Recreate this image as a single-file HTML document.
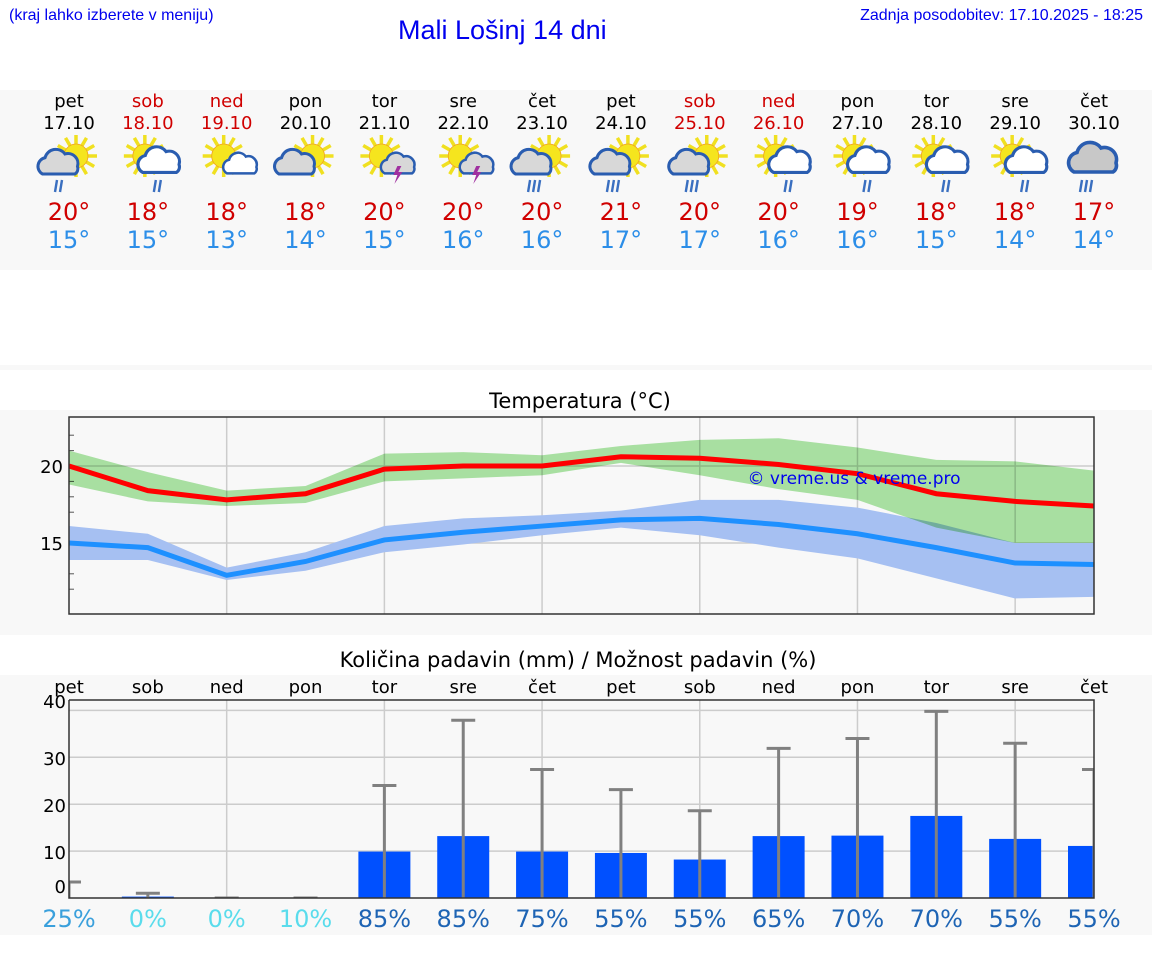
<!DOCTYPE html>
<html><head><meta charset="utf-8">
<style>
body{margin:0;width:1152px;height:975px;background:#fff;font-family:"DejaVu Sans","Liberation Sans",sans-serif;position:relative;overflow:hidden}
.abs{position:absolute}
.band{position:absolute;left:0;width:1152px;background:#f8f8f8}
</style></head><body>
<div class="abs" style="left:9px;top:7px;font:16px 'Liberation Sans',sans-serif;color:#0000ee">(kraj lahko izberete v meniju)</div>
<div class="abs" style="left:398px;top:15px;font:27px 'Liberation Sans',sans-serif;color:#0000ee">Mali Lošinj 14 dni</div>
<div class="abs" style="right:9px;top:7px;font:16px 'Liberation Sans',sans-serif;color:#0000ee">Zadnja posodobitev: 17.10.2025 - 18:25</div>
<div class="band" style="top:90px;height:180px"></div>
<div class="band" style="top:365px;height:5px"></div>
<div class="band" style="top:410px;height:225px"></div>
<div class="band" style="top:675px;height:260px"></div>
<svg id="svg" class="abs" style="left:0;top:0" width="1152" height="975"></svg>
<script>
const days=['pet','sob','ned','pon','tor','sre','čet','pet','sob','ned','pon','tor','sre','čet'];
const dates=['17.10','18.10','19.10','20.10','21.10','22.10','23.10','24.10','25.10','26.10','27.10','28.10','29.10','30.10'];
const weekend=[0,1,1,0,0,0,0,0,1,1,0,0,0,0];
const icons=['sc-r','s-cw-r','s-cws','sc','s-t','s-t','sc-r','sc-r','sc-r','s-cw-r','s-cw-r','s-cw-r','s-cw-r','c-r'];
const tmax=[20,18,18,18,20,20,20,21,20,20,19,18,18,17];
const tmin=[15,15,13,14,15,16,16,17,17,16,16,15,14,14];
const maxLine=[20.0,18.4,17.8,18.2,19.8,20.0,20.0,20.6,20.5,20.1,19.5,18.2,17.7,17.4];
const maxHi=[21.0,19.6,18.4,18.7,20.8,20.9,20.7,21.3,21.7,21.8,21.2,20.4,20.3,19.7];
const maxLo=[18.8,17.7,17.4,17.6,19.0,19.2,19.4,20.2,19.4,18.5,17.8,16.0,15.0,15.0];
const minLine=[15.0,14.7,12.9,13.8,15.2,15.7,16.1,16.5,16.6,16.2,15.6,14.7,13.7,13.6];
const minHi=[16.1,15.6,13.4,14.4,16.1,16.6,16.8,17.1,17.8,17.8,17.3,16.3,15.0,15.0];
const minLo=[13.9,13.9,12.6,13.2,14.4,14.9,15.5,16.0,15.5,14.7,14.0,12.7,11.4,11.5];
const precip=[0,0.3,0,0,9.9,13.2,9.9,9.6,8.2,13.2,13.3,17.5,12.6,11.1];
const precipHi=[3.4,1.0,0,0,24,37.9,27.4,23.1,18.6,31.9,34,39.8,33,27.4];
const chance=[25,0,0,10,85,85,75,55,55,65,70,70,55,55];
const tTicks=[15,20];
const pTicks=[10,20,30,40];
const NS='http://www.w3.org/2000/svg';
const svg=document.getElementById('svg');
function el(t,a,p){const e=document.createElementNS(NS,t);for(const k in a)e.setAttribute(k,a[k]);(p||svg).appendChild(e);return e;}
const X=i=>69+i*(1094-69)/13;
const TY=v=>466-(v-20)*15.4;
const PY=v=>898-v*4.69;
const defs=el('defs',{});
const cp=el('clipPath',{id:'pclip'},defs);el('rect',{x:69,y:690,width:1025,height:208},cp);
const cp2=el('clipPath',{id:'tclip'},defs);el('rect',{x:69,y:417,width:1025,height:197},cp2);
// header
days.forEach((d,i)=>{
 const c=weekend[i]?'#d00000':'#000';
 let t=el('text',{x:X(i),y:107,'text-anchor':'middle','font-size':18,fill:c});t.textContent=d;
 
 
 t=el('text',{x:X(i),y:129,'text-anchor':'middle','font-size':18,fill:c});t.textContent=dates[i];
 
 
 t=el('text',{x:X(i),y:220,'text-anchor':'middle','font-size':24,fill:'#d00000'});t.textContent=tmax[i]+'°';
 
 
 t=el('text',{x:X(i),y:248,'text-anchor':'middle','font-size':24,fill:'#2c8ee8'});t.textContent=tmin[i]+'°';
 
 
 const g=el('g',{transform:`translate(${X(i)-25},136)`});
 
 
 const k=icons[i];
 if(k!=='c-r'){const sx=k.startsWith('sc')?32:22, sy=20;
  for(let a=0;a<12;a++){const an=a*Math.PI/6;el('line',{x1:sx+Math.cos(an)*12,y1:sy+Math.sin(an)*12,x2:sx+Math.cos(an)*21,y2:sy+Math.sin(an)*21,stroke:'#f0e020','stroke-width':3.5},g);}
  el('circle',{cx:sx,cy:sy,r:12,fill:'#f5e51e',stroke:'#f0a020','stroke-width':0.8},g);}
 const cloud=(cx,cy,s,fill)=>el('path',{d:'M-14,8 a7 7 0 0 1 2,-13 a9 9 0 0 1 16,-3 a8 8 0 0 1 10,10 a5 5 0 0 1 -2,6 z',fill,stroke:'#2a5db0','stroke-width':2.4,transform:`translate(${cx},${cy}) scale(${s})`},g);
 if(k==='sc-r'||k==='sc'){cloud(16,28,1.25,'#d8d8d8');}
 else if(k==='s-cw-r'){cloud(38,26,1.3,'#fff');}
 else if(k==='s-cws'){cloud(40,29,1.05,'#fff');}
 else if(k==='s-t'){cloud(40,29,1.05,'#d8d8d8');el('path',{d:'M38,30 l-4,9 h4 l-3,9 l8,-12 h-4 l3,-6z',fill:'#a030a0'},g);}
 else if(k==='c-r'){cloud(26,24,1.5,'#c8c8c8');}
 if(k.endsWith('-r')){const rx=k==='s-cw-r'?36:16;const n=(k==='c-r'||(i>=6&&i<=8))?3:2;for(let j=0;j<n;j++)el('line',{x1:rx-3+j*5,y1:44,x2:rx-5+j*5,y2:56,stroke:'#3a6fc0','stroke-width':2.4},g);}
});
// temperature chart
let t=el('text',{x:580,y:408,'text-anchor':'middle','font-size':21,fill:'#000'});t.textContent='Temperatura (°C)';


for(let i=2;i<14;i+=2)el('line',{x1:X(i),y1:417,x2:X(i),y2:614,stroke:'#ccc','stroke-width':1.5});
for(let v=12;v<=22;v++){el('line',{x1:69,y1:TY(v),x2:74,y2:TY(v),stroke:'#555'});}
tTicks.forEach(v=>{el('line',{x1:69,y1:TY(v),x2:1094,y2:TY(v),stroke:'#ccc','stroke-width':1.5});
 const tt=el('text',{x:63,y:TY(v)+7,'text-anchor':'end','font-size':18});tt.textContent=v;
 
 });
const band=(hi,lo,c,name,op)=>{let d='M'+hi.map((v,i)=>X(i)+','+TY(v)).join('L')+'L'+lo.map((v,i)=>X(i)+','+TY(v)).reverse().join('L')+'Z';
 const p=el('path',{d,fill:c,opacity:op,'clip-path':'url(#tclip)'});return p;};
band(minHi,minLo,'#a6c0f2','min-temp-range',1);
const gb=band(maxHi,maxLo,'#98e090','max-temp-range',0.8);gb.style.mixBlendMode='multiply';
const line=(arr,c,name)=>{const p=el('polyline',{points:arr.map((v,i)=>X(i)+','+TY(v)).join(' '),fill:'none',stroke:c,'stroke-width':5,'clip-path':'url(#tclip)'});};
line(maxLine,'#ff0000','max-temp-line');
line(minLine,'#1e90ff','min-temp-line');
el('rect',{x:69,y:417,width:1025,height:197,fill:'none',stroke:'#333','stroke-width':1.5});
t=el('text',{x:854,y:484,'text-anchor':'middle','font-size':17,fill:'#0000ee'});t.textContent='© vreme.us & vreme.pro';


// precipitation chart
t=el('text',{x:578,y:667,'text-anchor':'middle','font-size':21});t.textContent='Količina padavin (mm) / Možnost padavin (%)';


for(let i=2;i<14;i+=2)el('line',{x1:X(i),y1:700,x2:X(i),y2:897,stroke:'#ccc','stroke-width':1.5});
pTicks.forEach(v=>{el('line',{x1:69,y1:PY(v),x2:1094,y2:PY(v),stroke:'#ccc','stroke-width':1.5});});
[[40,708],[30,765],[20,812],[10,859],[0,893]].forEach(([v,y])=>{const tt=el('text',{x:66,y,'text-anchor':'end','font-size':18});tt.textContent=v;
 
 });
const pg=el('g',{'clip-path':'url(#pclip)'});
days.forEach((d,i)=>{
 let tt=el('text',{x:X(i),y:693,'text-anchor':'middle','font-size':18});tt.textContent=d;
 
 
 const h=precip[i]*4.69;
 const r=el('rect',{x:X(i)-26,y:898-h,width:52,height:h,fill:'#0050ff'},pg);
 
 
 const hy=PY(precipHi[i]);
 el('line',{x1:X(i),y1:898,x2:X(i),y2:hy,stroke:'#808080','stroke-width':3},pg);
 el('line',{x1:X(i)-12,y1:hy,x2:X(i)+12,y2:hy,stroke:'#808080','stroke-width':3},pg);
 const c=chance[i]>=50?'#1e64b4':chance[i]>=20?'#3aa0dc':'#5adcec';
 tt=el('text',{x:X(i),y:927,'text-anchor':'middle','font-size':24,fill:c});tt.textContent=chance[i]+'%';
 
 
});
el('polyline',{points:'69,700 1094,700 1094,898 69,898 69,700',fill:'none',stroke:'#333','stroke-width':1.5});
</script>
</body></html>
